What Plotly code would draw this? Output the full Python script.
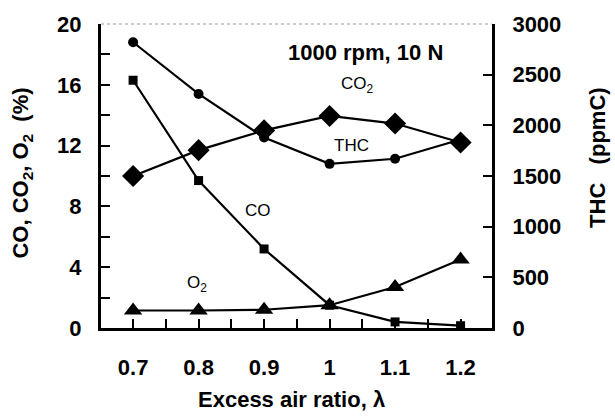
import plotly.graph_objects as go

lam = [0.7, 0.8, 0.9, 1.0, 1.1, 1.2]
co = [16.3, 9.7, 5.2, 1.5, 0.4, 0.15]
co2 = [10.0, 11.7, 13.0, 13.95, 13.45, 12.2]
o2 = [1.15, 1.15, 1.2, 1.5, 2.7, 4.5]
thc = [2820, 2310, 1880, 1620, 1670, 1860]

left_ticks = [0, 4, 8, 12, 16, 20]
right_ticks = [0, 500, 1000, 1500, 2000, 2500, 3000]
x_ticks = [0.7, 0.8, 0.9, 1.0, 1.1, 1.2]
x_labels = ["0.7", "0.8", "0.9", "1", "1.1", "1.2"]

FONT = "Liberation Sans"
line = dict(color="black", width=2.2)
TC = "black"

fig = go.Figure()
fig.add_trace(go.Scatter(x=lam, y=thc, yaxis="y2", mode="lines+markers", line=line,
                         marker=dict(symbol="circle", size=10, color="black"), name="THC"))
fig.add_trace(go.Scatter(x=lam, y=co, mode="lines+markers", line=line,
                         marker=dict(symbol="square", size=9, color="black"), name="CO"))
fig.add_trace(go.Scatter(x=lam, y=co2, mode="lines+markers", line=line,
                         marker=dict(symbol="diamond", size=17, color="black"), name="CO2"))
fig.add_trace(go.Scatter(x=lam, y=o2, mode="lines+markers", line=line,
                         marker=dict(symbol="triangle-up", size=16, color="black"), name="O2"))

tickfont = dict(family=FONT, size=22, color="black")
titlefont = dict(family=FONT, size=22, color="black")

fig.update_layout(
    width=615, height=418,
    margin=dict(l=101, r=123, t=15, b=90),
    paper_bgcolor="white", plot_bgcolor="white",
    showlegend=False,
    font=dict(family=FONT, color="black"),
    xaxis=dict(range=[0.651, 1.248], tickvals=x_ticks, ticktext=[f"<b>{t}</b>" for t in x_labels],
               ticks="inside", ticklen=9, tickwidth=2, tickcolor=TC,
               minor=dict(dtick=0.05, tick0=0.7, ticks="inside", ticklen=9, tickwidth=2, tickcolor=TC),
               showline=True, linecolor="black", linewidth=3, showgrid=False, zeroline=False,
               tickfont=tickfont, ticklabelstandoff=18),
    yaxis=dict(range=[0, 20], tickvals=left_ticks, ticktext=[f"<b>{t}</b>" for t in left_ticks],
               ticks="inside", ticklen=9, tickwidth=2, tickcolor=TC,
               minor=dict(dtick=2, tick0=0, ticks="inside", ticklen=9, tickwidth=2, tickcolor=TC),
               showline=True, linecolor="black", linewidth=3, showgrid=False, zeroline=False,
               tickfont=tickfont, ticklabelstandoff=12),
    yaxis2=dict(range=[0, 3000], overlaying="y", side="right",
                tickvals=right_ticks, ticktext=[f"<b>{t}</b>" for t in right_ticks],
                ticks="inside", ticklen=9, tickwidth=2, tickcolor=TC,
                showline=True, linecolor="black", linewidth=3, showgrid=False, zeroline=False,
                tickfont=tickfont, ticklabelstandoff=13),
)

fig.add_shape(type="line", xref="paper", yref="paper", x0=0, x1=1, y0=1, y1=1,
              line=dict(color="#999999", width=1, dash="dot"))

# axis titles
fig.add_annotation(xref="paper", yref="paper", x=0.486, y=-0.235, text="<b>Excess air ratio, λ</b>",
                   showarrow=False, font=titlefont, xanchor="center", yanchor="middle")
fig.add_annotation(xref="paper", yref="paper", x=-0.202, y=0.508,
                   text="<b>CO, CO<sub>2</sub>, O<sub>2</sub>  (%)</b>", textangle=-90,
                   showarrow=False, font=titlefont, xanchor="center", yanchor="middle")
fig.add_annotation(xref="paper", yref="paper", x=1.268, y=0.562,
                   text="<b>THC   (ppmC)</b>", textangle=-90,
                   showarrow=False, font=titlefont, xanchor="center", yanchor="middle")

ann_font = dict(family=FONT, size=17, color="black")
fig.add_annotation(x=1.055, y=18.1, text="<b>1000 rpm, 10 N</b>", showarrow=False,
                   font=dict(family=FONT, size=22, color="black"))
fig.add_annotation(x=1.043, y=16.0, text="CO<sub>2</sub>", showarrow=False, font=ann_font)
fig.add_annotation(x=1.034, y=12.0, text="THC", showarrow=False, font=ann_font)
fig.add_annotation(x=0.89, y=7.73, text="CO", showarrow=False, font=ann_font)
fig.add_annotation(x=0.798, y=2.9, text="O<sub>2</sub>", showarrow=False, font=ann_font)

fig.write_html("out.html")
